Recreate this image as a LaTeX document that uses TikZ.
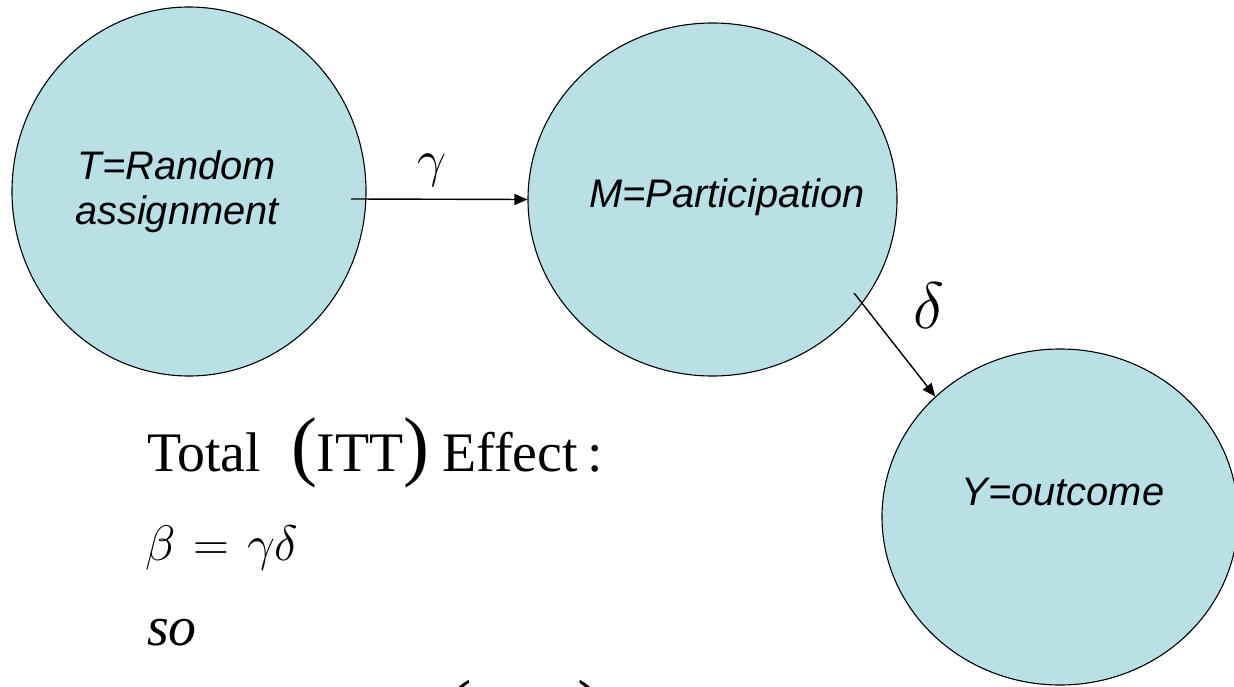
\RequirePackage{fix-cm}
\documentclass[tikz,border=0pt]{standalone}
\usepackage{fontspec}
\setmainfont{Liberation Serif}
\newfontfamily\arial{Liberation Sans}
\usetikzlibrary{shapes.geometric,arrows.meta}
\definecolor{circfill}{HTML}{B9E0E4}
\begin{document}
\begin{tikzpicture}[x=1bp,y=-1bp,
  blob/.style={ellipse, draw=black, line width=1.1bp, fill=circfill, inner sep=0pt},
  lbl/.style={font=\arial\itshape\fontsize{40}{45}\selectfont, anchor=base, inner sep=0pt},
  conn/.style={line width=1.4bp, -{Triangle[length=13bp,width=11bp]}},
  glab/.style={anchor=base, inner sep=0pt},
  eq/.style={anchor=base west, inner sep=0pt, font=\fontsize{56}{60}\selectfont},
  ]
\useasboundingbox (0,0) rectangle (1234,687);
\clip (0,0) rectangle (1234,687);
\fill[white] (0,0) rectangle (1234,687);
% circles
\node[blob, minimum width=354bp, minimum height=369bp] (T) at (189,191.5) {};
\node[blob, minimum width=369bp, minimum height=353bp] (M) at (712.5,199.5) {};
\node[blob, minimum width=356bp, minimum height=336bp] (Y) at (1060,517) {};
% labels
\node[lbl] (Tl1) at (177,180) {T=Random};
\node[lbl] (Tl2) at (177,225) {assignment};
\node[lbl] (Ml) at (727,208) {M=Participation};
\node[lbl] (Yl) at (1063,505) {Y=outcome};
% connectors
\coordinate (gs) at (351,199);
\draw[conn] (gs) -- (M.west);
\node[glab, font=\fontsize{52}{52}\selectfont] (gam) at (432,177) {$\gamma$};
\coordinate (ds) at (854,293);
\draw[conn] (ds) -- (Y.136.5);
\node[glab, font=\fontsize{66}{66}\selectfont] (del) at (929,328) {$\delta$};
% equations
\node[eq] (tot) at (147,471) {Total\hspace{30bp}{\fontsize{78}{78}\selectfont(}ITT{\fontsize{78}{78}\selectfont)}\hspace{13bp}Effect\hspace{10bp}:};
\node[eq, font=\fontsize{50}{56}\selectfont] (beta) at (145,560) {$\beta\mathrel{\hspace{4bp}=\hspace{4bp}}\gamma\delta$};
\node[eq] (so) at (147,645) {\textit{so}};
\node[eq, font=\fontsize{80}{80}\selectfont] (par) at (445,735) {(\hspace{106bp})};
\end{tikzpicture}
\end{document}
